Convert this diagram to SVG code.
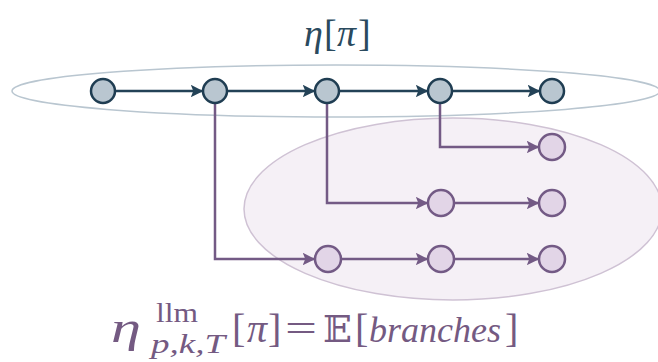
<svg xmlns="http://www.w3.org/2000/svg" width="658" height="362" viewBox="0 0 658 362">
<style>
.tn{fill:#b9c6d0;stroke:#1f3d52;stroke-width:2.5}
.pn{fill:#e2d5e7;stroke:#735a85;stroke-width:2.5}
.ta{fill:none;stroke:#234257;stroke-width:2.5}
.pa{fill:none;stroke:#735a85;stroke-width:2.5}
text{font-family:"Liberation Serif","DejaVu Serif",serif}
.it{font-style:italic}
</style>
<defs>
<marker id="ah" viewBox="0 0 10 10" refX="9" refY="5" markerWidth="5" markerHeight="5" orient="auto" markerUnits="strokeWidth"><path d="M0,0 L10,5 L0,10 L2,5 z" fill="#234257"/></marker>
<marker id="ahp" viewBox="0 0 10 10" refX="9" refY="5" markerWidth="5" markerHeight="5" orient="auto" markerUnits="strokeWidth"><path d="M0,0 L10,5 L0,10 L2,5 z" fill="#735a85"/></marker>
</defs>
<g id="background">
<ellipse cx="453" cy="209" rx="209" ry="91" fill="#f5f0f6" stroke="#cfc2d4" stroke-width="1.5"/>
<ellipse cx="336" cy="91" rx="324" ry="26" fill="none" stroke="#b9c6d0" stroke-width="1.5"/>
</g>
<g id="connectors">
<line class="ta" x1="115" y1="91" x2="202" y2="91" marker-end="url(#ah)"/>
<line class="ta" x1="227" y1="91" x2="314" y2="91" marker-end="url(#ah)"/>
<line class="ta" x1="339" y1="91" x2="427" y2="91" marker-end="url(#ah)"/>
<line class="ta" x1="452" y1="91" x2="539" y2="91" marker-end="url(#ah)"/>
<polyline class="pa" points="215,103 215,259 314,259" marker-end="url(#ahp)"/>
<polyline class="pa" points="327,103 327,203 427,203" marker-end="url(#ahp)"/>
<polyline class="pa" points="440,103 440,147 538,147" marker-end="url(#ahp)"/>
<line class="pa" x1="342" y1="259" x2="427" y2="259" marker-end="url(#ahp)"/>
<line class="pa" x1="455" y1="259" x2="538" y2="259" marker-end="url(#ahp)"/>
<line class="pa" x1="455" y1="203" x2="538" y2="203" marker-end="url(#ahp)"/>
</g>
<g id="n1"><circle class="tn" cx="103" cy="91" r="12"/></g>
<g id="n2"><circle class="tn" cx="215" cy="91" r="12"/></g>
<g id="n3"><circle class="tn" cx="327" cy="91" r="12"/></g>
<g id="n4"><circle class="tn" cx="440" cy="91" r="12"/></g>
<g id="n5"><circle class="tn" cx="552" cy="91" r="12"/></g>
<g id="b1"><circle class="pn" cx="552" cy="147" r="13"/></g>
<g id="b2"><circle class="pn" cx="441" cy="203" r="13"/></g>
<g id="b3"><circle class="pn" cx="552" cy="203" r="13"/></g>
<g id="b4"><circle class="pn" cx="328" cy="259" r="13"/></g>
<g id="b5"><circle class="pn" cx="441" cy="259" r="13"/></g>
<g id="b6"><circle class="pn" cx="552" cy="259" r="13"/></g>
<g id="label-top" fill="#2a4a5e" font-size="38">
<text class="it" x="304" y="46">η</text>
<text x="324" y="46">[</text>
<text class="it" x="337" y="46">π</text>
<text x="358" y="46">]</text>
</g>
<g id="label-bottom" fill="#745a82">
<text class="it" x="111" y="342" font-size="44" textLength="30" lengthAdjust="spacingAndGlyphs">η</text>
<text x="156" y="322" font-size="27" textLength="42" lengthAdjust="spacingAndGlyphs">llm</text>
<text class="it" x="151" y="353" font-size="27" textLength="74" lengthAdjust="spacingAndGlyphs">p,k,T</text>
<text x="232" y="342" font-size="40">[</text>
<text class="it" x="247" y="342" font-size="40">π</text>
<text x="268" y="342" font-size="40">]</text>
<text x="285" y="342" font-size="40" textLength="32" lengthAdjust="spacingAndGlyphs">=</text>
<text x="323" y="342" font-size="38" style="font-family:'DejaVu Serif','DejaVu Sans',serif">𝔼</text>
<text x="355" y="342" font-size="40">[</text>
<text class="it" x="369" y="342" font-size="36">branches</text>
<text x="505" y="342" font-size="40">]</text>
</g>
</svg>
